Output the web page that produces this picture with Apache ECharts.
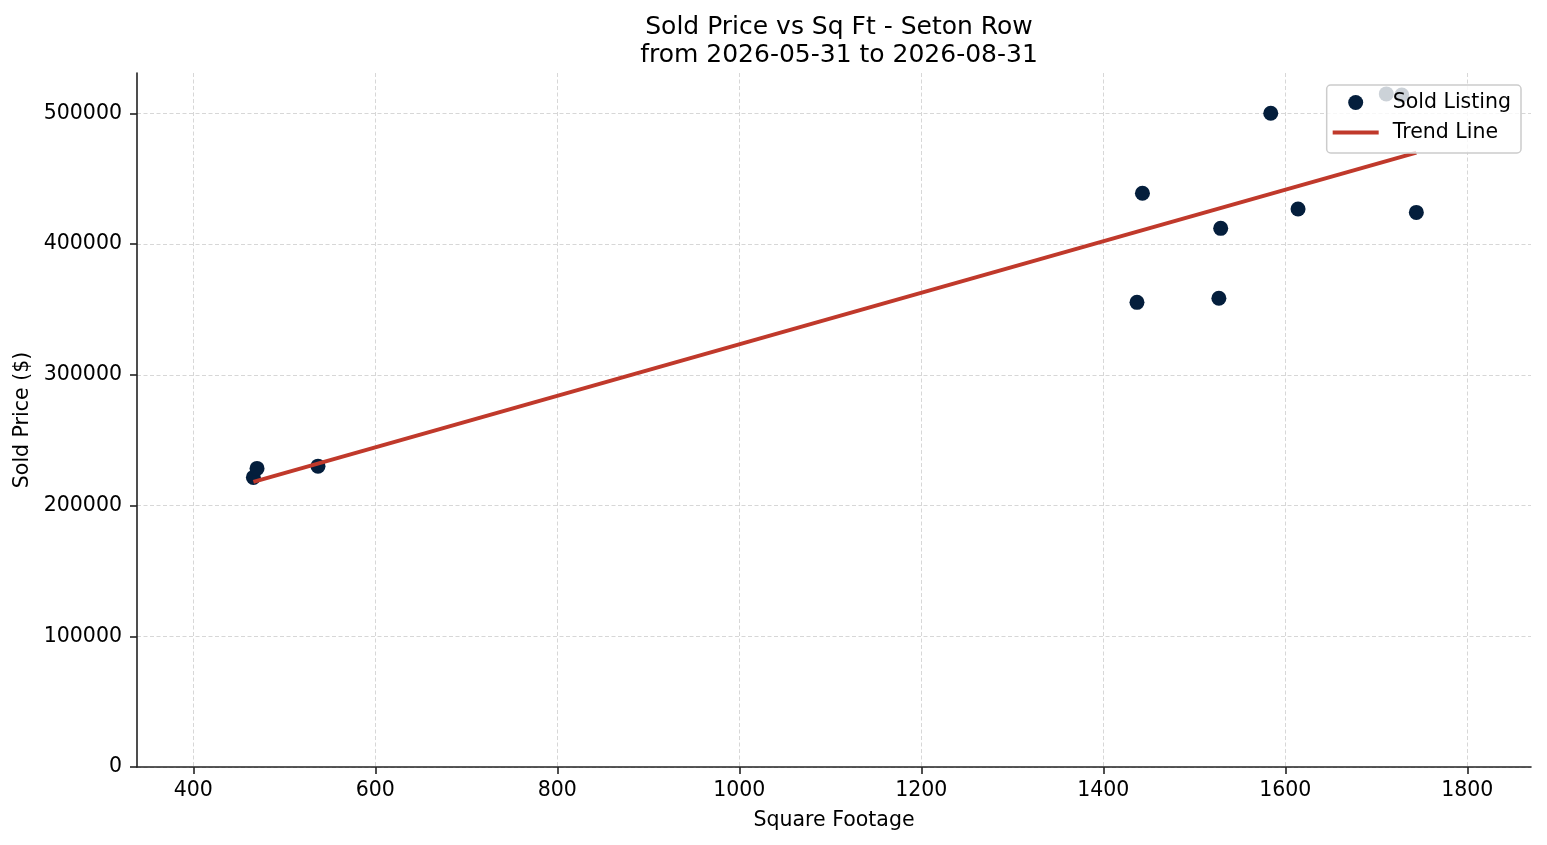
<!DOCTYPE html>
<html><head><meta charset="utf-8">
<script src="https://cdn.jsdelivr.net/npm/echarts@6/dist/echarts.min.js"></script>
<style>html,body{margin:0;padding:0;background:#fff}#c{width:1547px;height:845px}</style>
</head><body><div id="c"></div>
<script>
const sqft = [466, 470, 537, 1437, 1443, 1527, 1529, 1584, 1614, 1711, 1728, 1744];
const price = [221500, 228400, 230100, 355400, 438800, 358500, 412000, 500000, 426800, 514800, 514000, 424200];
const trendX = [466, 1744];
const trendY = [218100, 469900];
const xTicks = [400, 600, 800, 1000, 1200, 1400, 1600, 1800];
const yTicks = [0, 100000, 200000, 300000, 400000, 500000];
const titleText = 'Sold Price vs Sq Ft - Seton Row\nfrom 2026-05-31 to 2026-08-31';

const FONT = 'DejaVu Sans';
const chart = echarts.init(document.getElementById('c'), null, {renderer: 'canvas'});
const axisCommon = {
  axisLine: {show: true, onZero: false, lineStyle: {color: '#222', width: 1.6}},
  axisTick: {show: true, inside: false, length: 7, lineStyle: {color: '#222', width: 1.6}},
  splitLine: {show: true, lineStyle: {color: '#d3d3d3', width: 0.9, type: [4, 2.5]}},
  nameTextStyle: {fontFamily: FONT, fontSize: 20.5, color: '#000'}
};
chart.setOption({
  animation: false,
  backgroundColor: '#fff',
  textStyle: {fontFamily: FONT},
  title: {
    text: titleText,
    left: 834, top: 8, textAlign: 'center',
    textStyle: {fontFamily: FONT, fontSize: 25, fontWeight: 'normal', color: '#000', lineHeight: 28}
  },
  grid: {left: 137, right: 16, top: 73, bottom: 78, containLabel: false, outerBoundsMode: 'none'},
  legend: {
    orient: 'vertical', right: 26, top: 85,
    padding: [7, 10, 10, 6],
    itemWidth: 46, itemHeight: 15, itemGap: 9,
    backgroundColor: 'rgba(255,255,255,0.8)',
    borderColor: '#cccccc', borderWidth: 1.5, borderRadius: 4,
    z: 10,
    textStyle: {fontFamily: FONT, fontSize: 20.5, color: '#000', lineHeight: 20, padding: [0, 0, 0, 9]},
    data: [
      {name: 'Sold Listing', icon: 'circle'},
      {name: 'Trend Line', icon: 'path://M0,0L0,0M0,5.5L46,5.5L46,9.5L0,9.5ZM46,15L46,15',
       itemStyle: {color: '#c0392b', borderWidth: 0}}
    ]
  },
  xAxis: Object.assign({}, axisCommon, {
    type: 'value', min: 338.1, max: 1870,
    name: 'Square Footage', nameLocation: 'middle', nameGap: 43,
    axisTick: Object.assign({}, axisCommon.axisTick, {customValues: xTicks}),
    axisLabel: {customValues: xTicks, fontFamily: FONT, fontSize: 20.5, color: '#000', margin: 13,
      formatter: v => String(v)}
  }),
  yAxis: Object.assign({}, axisCommon, {
    type: 'value', min: 0, max: 530800,
    name: 'Sold Price ($)', nameLocation: 'middle', nameGap: 103,
    axisTick: Object.assign({}, axisCommon.axisTick, {customValues: yTicks}),
    axisLabel: {customValues: yTicks, fontFamily: FONT, fontSize: 20.5, color: '#000', margin: 15,
      formatter: v => String(v)}
  }),
  series: [
    {
      name: 'Sold Listing', type: 'scatter', z: 2,
      symbol: 'circle', symbolSize: 15,
      itemStyle: {color: '#041e3c', opacity: 1},
      data: sqft.map((x, i) => [x, price[i]])
    },
    {
      name: 'Trend Line', type: 'line', z: 3,
      symbol: 'none', showSymbol: false,
      lineStyle: {color: '#c0392b', width: 4},
      itemStyle: {color: '#c0392b'},
      data: trendX.map((x, i) => [x, trendY[i]])
    }
  ]
});
</script></body></html>
